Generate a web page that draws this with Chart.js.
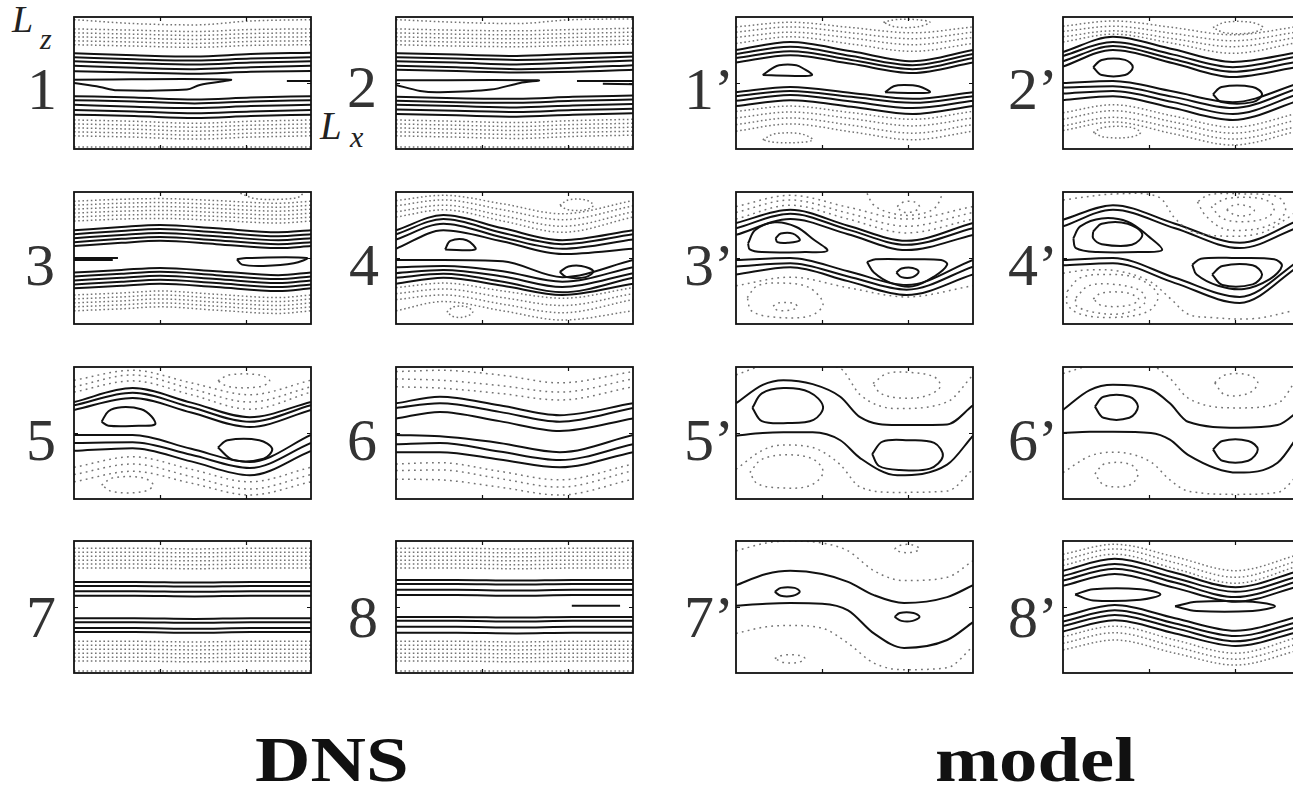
<!DOCTYPE html>
<html>
<head>
<meta charset="utf-8">
<script src="https://cdn.jsdelivr.net/npm/chart.js@4.4.1/dist/chart.umd.min.js"></script>
<style>
  body { margin: 0; width: 1293px; height: 789px; overflow: hidden; background: #fff; position: relative; font-family: "Liberation Serif", "DejaVu Serif", serif; }
  canvas.panel { position: absolute; }
  .num { position: absolute; font-size: 60px; line-height: 1; color: #333; white-space: nowrap; }
  .it { position: absolute; font-style: italic; line-height: 1; color: #222; }
  .big { position: absolute; font-size: 64px; font-weight: bold; line-height: 1; color: #111; transform: scaleX(1.2); transform-origin: left top; }
</style>
</head>
<body>

<span class="it" style="left:12px;top:0px;font-size:38px">L</span>
<span class="it" style="left:40px;top:24px;font-size:30px">z</span>
<span class="it" style="left:320px;top:106px;font-size:39px">L</span>
<span class="it" style="left:350px;top:122px;font-size:30px">x</span>

<div class="num" style="left:27px;top:59px">1</div>
<div class="num" style="left:347px;top:57px">2</div>
<div class="num" style="left:25px;top:235px">3</div>
<div class="num" style="left:349px;top:235px">4</div>
<div class="num" style="left:26px;top:410px">5</div>
<div class="num" style="left:347px;top:410px">6</div>
<div class="num" style="left:26px;top:587px">7</div>
<div class="num" style="left:348px;top:587px">8</div>
<div class="num" style="left:684px;top:59px">1’</div>
<div class="num" style="left:1008px;top:59px">2’</div>
<div class="num" style="left:684px;top:235px">3’</div>
<div class="num" style="left:1008px;top:235px">4’</div>
<div class="num" style="left:684px;top:410px">5’</div>
<div class="num" style="left:1008px;top:410px">6’</div>
<div class="num" style="left:684px;top:587px">7’</div>
<div class="num" style="left:1008px;top:587px">8’</div>

<div class="big" style="left:255px;top:728px">DNS</div>
<div class="big" style="left:935px;top:728px">model</div>

<script>
// axis ticks (x runs 0..Lx, z runs -1..1)
const xTicks = [1, 2];
const yTicks = [0];

// ---------- DNS panels ----------
const flatX = [0, 0.7, 1.4, 2.05, 2.75];

const d1Solid = [
  [0.45, 0.42, 0.40, 0.44, 0.46], [0.39, 0.36, 0.34, 0.37, 0.39], [0.33, 0.30, 0.28, 0.31, 0.33],
  [0.26, 0.23, 0.21, 0.24, 0.26], [0.18, 0.16, 0.14, 0.17, 0.18],
  [-0.20, -0.22, -0.25, -0.22, -0.20], [-0.26, -0.28, -0.31, -0.28, -0.26], [-0.33, -0.36, -0.38, -0.35, -0.33],
  [-0.41, -0.43, -0.46, -0.43, -0.41], [-0.48, -0.50, -0.53, -0.50, -0.48]
];
const d1Dotted = [
  [0.96, 0.90, 0.88, 0.94, 0.96], [0.82, 0.80, 0.78, 0.81, 0.82], [0.76, 0.74, 0.72, 0.75, 0.76],
  [0.70, 0.68, 0.66, 0.69, 0.70], [0.64, 0.62, 0.60, 0.63, 0.64], [0.58, 0.56, 0.54, 0.57, 0.58],
  [-0.56, -0.58, -0.61, -0.58, -0.56], [-0.62, -0.64, -0.67, -0.64, -0.62], [-0.68, -0.70, -0.73, -0.70, -0.68],
  [-0.74, -0.76, -0.79, -0.76, -0.74], [-0.80, -0.82, -0.85, -0.82, -0.80], [-0.97, -0.97, -0.97, -0.97, -0.97]
];
const d1Curves = [
  [[0, 0.05], [1.81, 0.05], [1.46, -0.03], [1.31, -0.10], [0.5, -0.11], [0.3, -0.06], [0, 0.0]],
  [[2.47, 0.03], [2.75, 0.03]]
];

const d2Solid = [
  [0.45, 0.43, 0.41, 0.44, 0.46], [0.39, 0.37, 0.35, 0.37, 0.40], [0.33, 0.31, 0.28, 0.31, 0.34],
  [0.26, 0.24, 0.21, 0.23, 0.27], [0.20, 0.18, 0.16, 0.17, 0.20],
  [-0.21, -0.23, -0.24, -0.21, -0.19], [-0.27, -0.29, -0.30, -0.27, -0.25], [-0.33, -0.35, -0.37, -0.34, -0.32],
  [-0.40, -0.42, -0.44, -0.41, -0.39], [-0.47, -0.49, -0.51, -0.48, -0.46]
];
const d2Dotted = [
  [0.96, 0.92, 0.90, 0.96, 0.97], [0.82, 0.80, 0.79, 0.81, 0.83], [0.76, 0.74, 0.73, 0.75, 0.77],
  [0.70, 0.68, 0.67, 0.69, 0.71], [0.64, 0.62, 0.61, 0.63, 0.65], [0.58, 0.56, 0.55, 0.57, 0.59],
  [-0.56, -0.58, -0.60, -0.57, -0.55], [-0.62, -0.64, -0.66, -0.63, -0.61], [-0.68, -0.70, -0.72, -0.69, -0.67],
  [-0.74, -0.76, -0.78, -0.75, -0.73], [-0.80, -0.82, -0.84, -0.81, -0.79], [-0.97, -0.97, -0.97, -0.97, -0.97]
];
const d2Curves = [
  [[0, 0.04], [1.65, 0.04], [1.44, 0.0], [1.1, -0.10], [0.5, -0.14], [0.28, -0.12], [0, -0.03]],
  [[2.1, 0.03], [2.75, 0.03]],
  [[2.4, -0.01], [2.75, -0.02]]
];

const d3X = [0, 0.55, 1.0, 1.65, 2.37, 2.75];
const d3Solid = [
  [0.42, 0.47, 0.50, 0.45, 0.39, 0.42], [0.36, 0.41, 0.44, 0.39, 0.33, 0.36], [0.30, 0.35, 0.38, 0.33, 0.27, 0.30],
  [0.24, 0.29, 0.32, 0.27, 0.21, 0.24], [0.18, 0.23, 0.26, 0.21, 0.15, 0.18],
  [-0.22, -0.18, -0.15, -0.20, -0.26, -0.22], [-0.28, -0.24, -0.21, -0.26, -0.32, -0.28], [-0.34, -0.30, -0.27, -0.32, -0.38, -0.34],
  [-0.40, -0.36, -0.33, -0.38, -0.44, -0.40], [-0.46, -0.42, -0.39, -0.44, -0.50, -0.46]
];
const d3Dotted = [
  [0.86, 0.89, 0.90, 0.87, 0.83, 0.86], [0.80, 0.83, 0.84, 0.81, 0.77, 0.80], [0.74, 0.77, 0.78, 0.75, 0.71, 0.74],
  [0.68, 0.71, 0.72, 0.69, 0.65, 0.68], [0.62, 0.65, 0.66, 0.63, 0.59, 0.62], [0.56, 0.59, 0.60, 0.57, 0.53, 0.56],
  [-0.56, -0.53, -0.50, -0.55, -0.60, -0.56], [-0.62, -0.59, -0.56, -0.61, -0.66, -0.62], [-0.68, -0.65, -0.62, -0.67, -0.72, -0.68],
  [-0.74, -0.71, -0.68, -0.73, -0.78, -0.74], [-0.80, -0.77, -0.74, -0.79, -0.84, -0.80]
];
const d3Curves = [
  [[0, 0.0], [0.51, 0.0]],
  [[0, -0.03], [0.45, -0.03]],
  [[1.89, -0.02], [2.0, 0.0], [2.70, 0.0], [2.55, -0.08], [2.2, -0.12], [1.95, -0.10], [1.89, -0.02]]
];
const d3DotCurves = [
  [[1.93, 0.98], [2.1, 0.9], [2.4, 0.89], [2.6, 0.92], [2.66, 0.98]]
];

const d4X = [0, 0.55, 1.24, 1.93, 2.75];
const d4Solid = [
  [0.42, 0.65, 0.45, 0.27, 0.42], [0.36, 0.59, 0.38, 0.21, 0.36], [0.28, 0.52, 0.31, 0.14, 0.28],
  [0.14, 0.42, 0.25, 0.06, 0.14],
  [-0.03, -0.03, -0.05, -0.29, -0.03], [-0.14, -0.12, -0.20, -0.36, -0.14], [-0.23, -0.18, -0.28, -0.44, -0.23],
  [-0.30, -0.24, -0.36, -0.52, -0.30], [-0.39, -0.30, -0.42, -0.56, -0.39]
];
const d4Dotted = [
  [0.87, 0.95, 0.82, 0.67, 0.87], [0.79, 0.88, 0.73, 0.58, 0.79], [0.70, 0.80, 0.64, 0.48, 0.70],
  [0.62, 0.73, 0.56, 0.39, 0.62],
  [-0.45, -0.38, -0.50, -0.61, -0.45], [-0.54, -0.47, -0.60, -0.72, -0.54], [-0.63, -0.56, -0.70, -0.83, -0.63],
  [-0.80, -0.66, -0.80, -0.94, -0.80]
];
const d4Curves = [
  [[0.57, 0.13], [0.63, 0.26], [0.82, 0.27], [0.92, 0.13], [0.57, 0.13]],
  [[1.9, -0.21], [2.0, -0.13], [2.15, -0.12], [2.29, -0.2], [2.2, -0.29], [1.98, -0.29], [1.9, -0.21]]
];
const d4DotCurves = [
  [[1.9, 0.8], [2.0, 0.88], [2.2, 0.88], [2.29, 0.8], [2.2, 0.73], [2.0, 0.73], [1.9, 0.8]],
  [[0.59, -0.82], [0.67, -0.74], [0.82, -0.74], [0.89, -0.82], [0.8, -0.89], [0.67, -0.89], [0.59, -0.82]]
];

const d5X = [0, 0.68, 1.36, 2.04, 2.75];
const d5Solid = [
  [0.47, 0.68, 0.46, 0.24, 0.47], [0.42, 0.61, 0.39, 0.17, 0.42], [0.35, 0.53, 0.31, 0.09, 0.35],
  [-0.03, -0.03, -0.24, -0.44, -0.03], [-0.15, -0.14, -0.33, -0.53, -0.15], [-0.27, -0.23, -0.43, -0.64, -0.27]
];
const d5Dotted = [
  [0.80, 0.95, 0.76, 0.58, 0.80], [0.70, 0.88, 0.67, 0.47, 0.70], [0.62, 0.79, 0.58, 0.36, 0.62],
  [-0.52, -0.36, -0.55, -0.74, -0.52], [-0.63, -0.47, -0.66, -0.85, -0.63], [-0.74, -0.58, -0.76, -0.94, -0.74]
];
const d5Curves = [
  [[0.32, 0.17], [0.4, 0.33], [0.55, 0.39], [0.78, 0.36], [0.9, 0.25], [0.94, 0.13], [0.75, 0.11], [0.4, 0.11], [0.32, 0.17]],
  [[1.67, -0.22], [1.78, -0.11], [2.15, -0.11], [2.3, -0.24], [2.2, -0.39], [1.85, -0.41], [1.67, -0.22]]
];
const d5DotCurves = [
  [[1.67, 0.79], [1.8, 0.88], [2.15, 0.88], [2.27, 0.79], [2.15, 0.70], [1.8, 0.70], [1.67, 0.79]],
  [[0.32, -0.79], [0.45, -0.68], [0.8, -0.68], [0.92, -0.79], [0.8, -0.89], [0.45, -0.89], [0.32, -0.79]]
];

const d6X = [0, 0.51, 1.2, 1.9, 2.75];
const d6Solid = [
  [0.45, 0.55, 0.42, 0.27, 0.45], [0.38, 0.45, 0.32, 0.17, 0.38], [0.22, 0.32, 0.18, 0.03, 0.22],
  [-0.03, -0.05, -0.15, -0.29, -0.03], [-0.17, -0.15, -0.28, -0.41, -0.17], [-0.29, -0.29, -0.40, -0.52, -0.29]
];
const d6Dotted = [
  [0.93, 0.95, 0.88, 0.76, 0.93], [0.82, 0.80, 0.72, 0.62, 0.82], [0.70, 0.68, 0.60, 0.50, 0.70],
  [-0.47, -0.45, -0.58, -0.71, -0.47], [-0.57, -0.56, -0.69, -0.82, -0.57], [-0.70, -0.71, -0.82, -0.94, -0.70]
];

const d7Solid = [
  [0.38, 0.38, 0.37, 0.38, 0.38], [0.32, 0.32, 0.31, 0.32, 0.32], [0.24, 0.24, 0.23, 0.24, 0.24],
  [0.17, 0.17, 0.16, 0.17, 0.17],
  [-0.17, -0.17, -0.18, -0.17, -0.17], [-0.23, -0.23, -0.24, -0.23, -0.23], [-0.32, -0.32, -0.33, -0.32, -0.32],
  [-0.38, -0.38, -0.39, -0.38, -0.38]
];
const d7Dotted = [
  [0.89, 0.89, 0.88, 0.89, 0.89], [0.83, 0.83, 0.82, 0.83, 0.83], [0.77, 0.77, 0.76, 0.77, 0.77],
  [0.71, 0.71, 0.70, 0.71, 0.71], [0.65, 0.65, 0.64, 0.65, 0.65], [0.59, 0.59, 0.58, 0.59, 0.59],
  [-0.52, -0.52, -0.53, -0.52, -0.52], [-0.58, -0.58, -0.59, -0.58, -0.58], [-0.64, -0.64, -0.65, -0.64, -0.64],
  [-0.70, -0.70, -0.71, -0.70, -0.70], [-0.76, -0.76, -0.77, -0.76, -0.76], [-0.82, -0.82, -0.83, -0.82, -0.82],
  [-0.97, -0.97, -0.97, -0.97, -0.97]
];

const d8Solid = [
  [0.41, 0.41, 0.40, 0.41, 0.41], [0.35, 0.35, 0.34, 0.35, 0.35], [0.26, 0.26, 0.25, 0.26, 0.26],
  [0.18, 0.18, 0.17, 0.18, 0.18],
  [-0.15, -0.15, -0.16, -0.15, -0.15], [-0.21, -0.21, -0.22, -0.21, -0.21], [-0.30, -0.30, -0.31, -0.30, -0.30],
  [-0.39, -0.39, -0.40, -0.39, -0.39]
];
const d8Dotted = [
  [0.89, 0.89, 0.88, 0.89, 0.89], [0.83, 0.83, 0.82, 0.83, 0.83], [0.77, 0.77, 0.76, 0.77, 0.77],
  [0.71, 0.71, 0.70, 0.71, 0.71], [0.65, 0.65, 0.64, 0.65, 0.65], [0.59, 0.59, 0.58, 0.59, 0.59],
  [-0.52, -0.52, -0.53, -0.52, -0.52], [-0.58, -0.58, -0.59, -0.58, -0.58], [-0.64, -0.64, -0.65, -0.64, -0.64],
  [-0.70, -0.70, -0.71, -0.70, -0.70], [-0.76, -0.76, -0.77, -0.76, -0.76], [-0.82, -0.82, -0.83, -0.82, -0.82],
  [-0.97, -0.97, -0.97, -0.97, -0.97]
];
const d8Curves = [
  [[2.04, 0.02], [2.6, 0.02]]
];

// ---------- model panels ----------
const m1X = [0, 0.63, 1.34, 2.05, 2.75];
const m1Solid = [
  [0.50, 0.62, 0.48, 0.33, 0.50], [0.44, 0.55, 0.41, 0.27, 0.44], [0.38, 0.48, 0.35, 0.21, 0.38],
  [0.31, 0.42, 0.29, 0.15, 0.31],
  [-0.14, -0.06, -0.15, -0.24, -0.14], [-0.20, -0.12, -0.21, -0.30, -0.20], [-0.27, -0.18, -0.28, -0.38, -0.27],
  [-0.35, -0.26, -0.36, -0.47, -0.35]
];
const m1Dotted = [
  [0.85, 0.92, 0.84, 0.76, 0.85], [0.77, 0.85, 0.76, 0.67, 0.77], [0.69, 0.77, 0.68, 0.58, 0.69],
  [0.60, 0.70, 0.59, 0.48, 0.60],
  [-0.43, -0.35, -0.45, -0.55, -0.43], [-0.53, -0.44, -0.54, -0.65, -0.53], [-0.63, -0.53, -0.64, -0.76, -0.63],
  [-0.73, -0.62, -0.74, -0.86, -0.73]
];
const m1Curves = [
  [[0.31, 0.12], [0.42, 0.22], [0.5, 0.27], [0.7, 0.27], [0.78, 0.22], [0.88, 0.12], [0.6, 0.11], [0.31, 0.12]],
  [[1.73, -0.14], [1.83, -0.05], [1.95, -0.03], [2.12, -0.05], [2.25, -0.14], [2.0, -0.15], [1.73, -0.14]]
];
const m1DotCurves = [
  [[1.71, 0.92], [1.85, 0.96], [2.1, 0.96], [2.25, 0.92], [2.1, 0.85], [1.85, 0.85], [1.71, 0.92]],
  [[0.31, -0.86], [0.45, -0.77], [0.75, -0.77], [0.89, -0.86], [0.75, -0.9], [0.45, -0.9], [0.31, -0.86]]
];

const m2X = [0, 0.58, 1.28, 1.97, 2.75];
const m2Solid = [
  [0.47, 0.70, 0.51, 0.32, 0.47], [0.41, 0.62, 0.43, 0.24, 0.41], [0.33, 0.56, 0.36, 0.17, 0.33],
  [0.25, 0.50, 0.30, 0.09, 0.25],
  [0.0, 0.03, -0.13, -0.29, 0.0], [-0.07, -0.05, -0.21, -0.38, -0.07], [-0.16, -0.12, -0.29, -0.47, -0.16],
  [-0.26, -0.20, -0.38, -0.56, -0.26]
];
const m2Dotted = [
  [0.86, 0.94, 0.84, 0.73, 0.86], [0.78, 0.86, 0.75, 0.64, 0.78], [0.70, 0.79, 0.67, 0.55, 0.70],
  [0.62, 0.74, 0.60, 0.45, 0.62],
  [-0.45, -0.33, -0.50, -0.67, -0.45], [-0.55, -0.42, -0.59, -0.76, -0.55], [-0.65, -0.52, -0.68, -0.85, -0.65],
  [-0.72, -0.59, -0.77, -0.94, -0.72]
];
const m2Curves = [
  [[0.35, 0.24], [0.45, 0.35], [0.72, 0.35], [0.81, 0.24], [0.72, 0.12], [0.45, 0.12], [0.35, 0.24]],
  [[1.74, -0.17], [1.84, -0.06], [2.2, -0.06], [2.31, -0.17], [2.2, -0.29], [1.84, -0.29], [1.74, -0.17]]
];
const m2DotCurves = [
  [[1.74, 0.84], [1.88, 0.92], [2.18, 0.92], [2.32, 0.84], [2.18, 0.76], [1.88, 0.76], [1.74, 0.84]],
  [[0.35, -0.75], [0.48, -0.67], [0.78, -0.67], [0.9, -0.75], [0.78, -0.82], [0.48, -0.82], [0.35, -0.75]]
];

const m3X = [0, 0.63, 1.3, 1.98, 2.75];
const m3Solid = [
  [0.53, 0.73, 0.49, 0.26, 0.53], [0.45, 0.67, 0.43, 0.20, 0.45], [0.35, 0.59, 0.36, 0.12, 0.35],
  [-0.03, 0.0, -0.20, -0.41, -0.03], [-0.13, -0.08, -0.28, -0.48, -0.13], [-0.25, -0.14, -0.35, -0.56, -0.25]
];
const m3Dotted = [
  [0.78, 0.95, 0.77, 0.59, 0.78], [0.69, 0.88, 0.68, 0.48, 0.69], [0.59, 0.80, 0.59, 0.38, 0.59],
  [-0.42, -0.29, -0.45, -0.59, -0.42]
];
const m3Curves = [
  [[0.14, 0.22], [0.22, 0.42], [0.45, 0.54], [0.7, 0.47], [0.9, 0.28], [1.06, 0.11], [0.8, 0.09], [0.3, 0.09], [0.16, 0.13], [0.14, 0.22]],
  [[0.46, 0.3], [0.52, 0.37], [0.66, 0.37], [0.74, 0.27], [0.6, 0.23], [0.48, 0.24], [0.46, 0.3]],
  [[1.52, -0.06], [1.62, -0.02], [2.0, -0.02], [2.38, -0.03], [2.45, -0.1], [2.3, -0.28], [2.05, -0.43], [1.8, -0.38], [1.6, -0.22], [1.52, -0.06]],
  [[1.86, -0.22], [1.92, -0.16], [2.05, -0.15], [2.12, -0.21], [2.05, -0.29], [1.92, -0.29], [1.86, -0.22]]
];
const m3DotCurves = [
  [[1.52, 0.98], [1.6, 0.8], [1.8, 0.68], [2.05, 0.65], [2.3, 0.75], [2.4, 0.98]],
  [[1.87, 0.78], [1.95, 0.85], [2.07, 0.85], [2.13, 0.77], [2.05, 0.7], [1.93, 0.7], [1.87, 0.78]],
  [[0.13, -0.6], [0.25, -0.42], [0.55, -0.38], [0.85, -0.45], [1.01, -0.7], [0.85, -0.88], [0.4, -0.89], [0.18, -0.8], [0.13, -0.6]],
  [[0.43, -0.73], [0.5, -0.68], [0.68, -0.69], [0.71, -0.75], [0.62, -0.79], [0.48, -0.79], [0.43, -0.73]]
];

const m4X = [0, 0.58, 1.3, 2.05, 2.75];
const m4Solid = [
  [0.58, 0.80, 0.52, 0.23, 0.58], [0.48, 0.73, 0.45, 0.15, 0.48],
  [-0.03, 0.0, -0.30, -0.59, -0.03], [-0.11, -0.08, -0.38, -0.68, -0.11]
];
const m4Curves = [
  [[0.12, 0.3], [0.2, 0.48], [0.45, 0.6], [0.75, 0.55], [1.0, 0.32], [1.15, 0.12], [0.9, 0.09], [0.4, 0.09], [0.15, 0.15], [0.12, 0.3]],
  [[0.35, 0.4], [0.45, 0.52], [0.75, 0.52], [0.92, 0.36], [0.8, 0.2], [0.45, 0.21], [0.35, 0.3], [0.35, 0.4]],
  [[1.5, -0.1], [1.6, -0.01], [2.0, 0.0], [2.45, -0.02], [2.54, -0.12], [2.4, -0.32], [2.1, -0.47], [1.8, -0.42], [1.55, -0.25], [1.5, -0.1]],
  [[1.73, -0.25], [1.85, -0.12], [2.2, -0.11], [2.31, -0.25], [2.2, -0.4], [1.85, -0.41], [1.73, -0.25]]
];
const m4DotCurves = [
  [[0, 0.88], [0.6, 0.97], [1.1, 0.93], [1.3, 0.6], [1.5, 0.4], [1.9, 0.33], [2.3, 0.38], [2.6, 0.6], [2.75, 0.75]],
  [[0, -0.23], [0.3, -0.18], [0.65, -0.2], [1.0, -0.35], [1.25, -0.62], [1.45, -0.85], [1.7, -0.9], [2.2, -0.92], [2.6, -0.82], [2.75, -0.75]],
  [[1.56, 0.85], [1.65, 0.65], [1.85, 0.45], [2.1, 0.42], [2.4, 0.5], [2.58, 0.7], [2.5, 0.92], [2.1, 0.97], [1.7, 0.96], [1.56, 0.85]],
  [[1.72, 0.78], [1.85, 0.6], [2.1, 0.55], [2.38, 0.62], [2.45, 0.78], [2.3, 0.9], [1.9, 0.9], [1.72, 0.78]],
  [[1.9, 0.73], [2.0, 0.65], [2.15, 0.65], [2.22, 0.73], [2.1, 0.8], [1.98, 0.8], [1.9, 0.73]],
  [[0.05, -0.5], [0.2, -0.3], [0.5, -0.25], [0.85, -0.3], [1.1, -0.55], [1.0, -0.8], [0.6, -0.9], [0.2, -0.85], [0.05, -0.7], [0.05, -0.5]],
  [[0.15, -0.6], [0.3, -0.42], [0.6, -0.4], [0.9, -0.5], [0.95, -0.68], [0.7, -0.84], [0.35, -0.82], [0.15, -0.72], [0.15, -0.6]],
  [[0.35, -0.62], [0.45, -0.53], [0.75, -0.53], [0.88, -0.63], [0.75, -0.72], [0.45, -0.72], [0.35, -0.62]]
];

const m5X = [0, 0.31, 0.55, 0.89, 1.21, 1.44, 1.87, 2.45, 2.75];
const m5Solid = [
  [0.45, 0.73, 0.80, 0.74, 0.55, 0.24, 0.12, 0.13, 0.42],
  [-0.04, 0.0, 0.01, 0.01, -0.11, -0.38, -0.64, -0.48, -0.04]
];
const m5Dotted = [
  [0.88, 1.02, 1.05, 1.05, 0.98, 0.58, 0.37, 0.47, 0.88],
  [-0.55, -0.26, -0.18, -0.22, -0.48, -0.82, -0.90, -0.88, -0.55]
];
const m5Curves = [
  [[0.19, 0.38], [0.3, 0.6], [0.55, 0.68], [0.85, 0.62], [1.01, 0.4], [0.9, 0.2], [0.6, 0.15], [0.3, 0.18], [0.19, 0.38]],
  [[1.58, -0.32], [1.7, -0.13], [2.0, -0.11], [2.3, -0.15], [2.4, -0.35], [2.25, -0.54], [1.9, -0.56], [1.66, -0.5], [1.58, -0.32]]
];
const m5DotCurves = [
  [[1.59, 0.75], [1.75, 0.9], [2.0, 0.92], [2.3, 0.85], [2.37, 0.7], [2.2, 0.56], [1.9, 0.53], [1.68, 0.6], [1.59, 0.75]],
  [[0.16, -0.6], [0.3, -0.4], [0.6, -0.33], [0.9, -0.4], [1.01, -0.6], [0.85, -0.8], [0.5, -0.83], [0.25, -0.77], [0.16, -0.6]]
];

const m6X = [0, 0.31, 0.58, 1.02, 1.24, 1.45, 2.03, 2.49, 2.75];
const m6Solid = [
  [0.35, 0.65, 0.73, 0.66, 0.45, 0.17, 0.08, 0.12, 0.35],
  [0.0, 0.02, 0.02, 0.0, -0.10, -0.33, -0.60, -0.45, 0.0]
];
const m6Dotted = [
  [0.90, 1.02, 1.05, 1.02, 0.83, 0.53, 0.38, 0.45, 0.90],
  [-0.60, -0.35, -0.29, -0.44, -0.71, -0.88, -0.93, -0.90, -0.60]
];
const m6Curves = [
  [[0.37, 0.4], [0.47, 0.55], [0.77, 0.55], [0.87, 0.4], [0.77, 0.23], [0.47, 0.23], [0.37, 0.4]],
  [[1.74, -0.25], [1.85, -0.12], [2.15, -0.12], [2.26, -0.25], [2.15, -0.42], [1.85, -0.42], [1.74, -0.25]]
];
const m6DotCurves = [
  [[1.76, 0.76], [1.88, 0.88], [2.15, 0.88], [2.26, 0.76], [2.15, 0.6], [1.88, 0.58], [1.76, 0.76]],
  [[0.37, -0.62], [0.48, -0.47], [0.77, -0.47], [0.87, -0.62], [0.77, -0.79], [0.48, -0.79], [0.37, -0.62]]
];

const m7X = [0, 0.35, 0.63, 1.0, 1.3, 1.6, 1.95, 2.45, 2.75];
const m7Solid = [
  [0.33, 0.50, 0.55, 0.50, 0.38, 0.18, 0.06, 0.15, 0.33],
  [0.02, 0.05, 0.06, 0.05, -0.05, -0.40, -0.62, -0.50, -0.23]
];
const m7Dotted = [
  [0.85, 0.97, 1.0, 0.97, 0.85, 0.55, 0.40, 0.45, 0.70],
  [-0.40, -0.30, -0.28, -0.32, -0.55, -0.85, -0.95, -0.92, -0.60]
];
const m7Curves = [
  [[0.45, 0.23], [0.52, 0.29], [0.68, 0.29], [0.74, 0.23], [0.66, 0.17], [0.52, 0.17], [0.45, 0.23]],
  [[1.84, -0.15], [1.9, -0.09], [2.06, -0.09], [2.13, -0.15], [2.05, -0.21], [1.92, -0.21], [1.84, -0.15]]
];
const m7DotCurves = [
  [[1.84, 0.88], [1.92, 0.94], [2.05, 0.94], [2.13, 0.88], [2.05, 0.83], [1.92, 0.83], [1.84, 0.88]],
  [[0.45, -0.78], [0.55, -0.73], [0.72, -0.73], [0.8, -0.78], [0.72, -0.84], [0.55, -0.84], [0.45, -0.78]]
];

const m8X = [0, 0.6, 1.3, 2.0, 2.75];
const m8Solid = [
  [0.55, 0.73, 0.52, 0.30, 0.55], [0.47, 0.65, 0.44, 0.23, 0.47], [0.40, 0.58, 0.37, 0.15, 0.40],
  [0.32, 0.50, 0.29, 0.08, 0.32],
  [-0.14, 0.03, -0.17, -0.36, -0.14], [-0.22, -0.05, -0.25, -0.44, -0.22], [-0.29, -0.12, -0.32, -0.52, -0.29],
  [-0.37, -0.20, -0.40, -0.59, -0.37]
];
const m8Dotted = [
  [0.80, 0.95, 0.76, 0.55, 0.80], [0.71, 0.88, 0.67, 0.45, 0.71], [0.63, 0.80, 0.58, 0.36, 0.63],
  [-0.45, -0.29, -0.50, -0.70, -0.45], [-0.55, -0.39, -0.60, -0.79, -0.55], [-0.65, -0.50, -0.70, -0.88, -0.65]
];
const m8Curves = [
  [[0.14, 0.19], [0.35, 0.27], [0.9, 0.27], [1.13, 0.19], [0.9, 0.11], [0.35, 0.1], [0.14, 0.19]],
  [[1.3, 0.01], [1.55, 0.08], [2.2, 0.08], [2.46, 0.01], [2.2, -0.06], [1.55, -0.06], [1.3, 0.01]]
];

// ---------- layout ----------
const denseDash = [1.6, 2.6];
const looseDash = [1.8, 4.2];

const panels = [
  { left: 74,   top: 17,  xs: flatX, solid: d1Solid, dotted: d1Dotted, curves: d1Curves, dotCurves: [], dash: denseDash },
  { left: 396,  top: 17,  xs: flatX, solid: d2Solid, dotted: d2Dotted, curves: d2Curves, dotCurves: [], dash: denseDash },
  { left: 74,   top: 192, xs: d3X, solid: d3Solid, dotted: d3Dotted, curves: d3Curves, dotCurves: d3DotCurves, dash: denseDash },
  { left: 396,  top: 192, xs: d4X, solid: d4Solid, dotted: d4Dotted, curves: d4Curves, dotCurves: d4DotCurves, dash: denseDash },
  { left: 74,   top: 367, xs: d5X, solid: d5Solid, dotted: d5Dotted, curves: d5Curves, dotCurves: d5DotCurves, dash: looseDash },
  { left: 396,  top: 367, xs: d6X, solid: d6Solid, dotted: d6Dotted, curves: [], dotCurves: [], dash: looseDash },
  { left: 74,   top: 541, xs: flatX, solid: d7Solid, dotted: d7Dotted, curves: [], dotCurves: [], dash: denseDash },
  { left: 396,  top: 541, xs: flatX, solid: d8Solid, dotted: d8Dotted, curves: d8Curves, dotCurves: [], dash: denseDash },
  { left: 736,  top: 17,  xs: m1X, solid: m1Solid, dotted: m1Dotted, curves: m1Curves, dotCurves: m1DotCurves, dash: denseDash },
  { left: 1063, top: 17,  xs: m2X, solid: m2Solid, dotted: m2Dotted, curves: m2Curves, dotCurves: m2DotCurves, dash: denseDash },
  { left: 736,  top: 192, xs: m3X, solid: m3Solid, dotted: m3Dotted, curves: m3Curves, dotCurves: m3DotCurves, dash: looseDash },
  { left: 1063, top: 192, xs: m4X, solid: m4Solid, dotted: [], curves: m4Curves, dotCurves: m4DotCurves, dash: looseDash },
  { left: 736,  top: 367, xs: m5X, solid: m5Solid, dotted: m5Dotted, curves: m5Curves, dotCurves: m5DotCurves, dash: looseDash },
  { left: 1063, top: 367, xs: m6X, solid: m6Solid, dotted: m6Dotted, curves: m6Curves, dotCurves: m6DotCurves, dash: looseDash },
  { left: 736,  top: 541, xs: m7X, solid: m7Solid, dotted: m7Dotted, curves: m7Curves, dotCurves: m7DotCurves, dash: looseDash },
  { left: 1063, top: 541, xs: m8X, solid: m8Solid, dotted: m8Dotted, curves: m8Curves, dotCurves: [], dash: denseDash }
];

const PANEL_W = 237, PANEL_H = 132, PAD = 2;
const DOT_COLOR = '#747474';
const LINE_COLOR = '#111';

// box + inward ticks, like the matlab axes
const framePlugin = {
  id: 'frame',
  afterDraw(chart) {
    const { ctx, chartArea: a, scales } = chart;
    ctx.save();
    ctx.strokeStyle = '#111';
    ctx.lineWidth = 1.8;
    ctx.strokeRect(a.left, a.top, a.right - a.left, a.bottom - a.top);
    ctx.lineWidth = 1.2;
    ctx.beginPath();
    xTicks.forEach(v => {
      const px = Math.round(scales.x.getPixelForValue(v)) + 0.5;
      ctx.moveTo(px, a.top); ctx.lineTo(px, a.top + 4);
      ctx.moveTo(px, a.bottom); ctx.lineTo(px, a.bottom - 4);
    });
    yTicks.forEach(v => {
      const py = Math.round(scales.y.getPixelForValue(v)) + 0.5;
      ctx.moveTo(a.left, py); ctx.lineTo(a.left + 4, py);
      ctx.moveTo(a.right, py); ctx.lineTo(a.right - 4, py);
    });
    ctx.stroke();
    ctx.restore();
  }
};

function bandSet(xs, ys, dotted, dash) {
  return {
    data: xs.map((x, i) => ({ x: x, y: ys[i] })),
    borderColor: dotted ? DOT_COLOR : LINE_COLOR,
    borderWidth: dotted ? 1.5 : 2,
    borderDash: dotted ? dash : [],
    cubicInterpolationMode: 'monotone',
    pointRadius: 0,
    fill: false
  };
}

function curveSet(pts, dotted, dash) {
  return {
    data: pts.map(p => ({ x: p[0], y: p[1] })),
    borderColor: dotted ? DOT_COLOR : LINE_COLOR,
    borderWidth: dotted ? 1.5 : 2,
    borderDash: dotted ? dash : [],
    tension: 0.35,
    pointRadius: 0,
    fill: false
  };
}

panels.forEach(p => {
  const cv = document.createElement('canvas');
  cv.className = 'panel';
  cv.width = PANEL_W + 2 * PAD;
  cv.height = PANEL_H + 2 * PAD;
  cv.style.left = (p.left - PAD) + 'px';
  cv.style.top = (p.top - PAD) + 'px';
  document.body.appendChild(cv);

  const datasets = [];
  p.dotted.forEach(ys => datasets.push(bandSet(p.xs, ys, true, p.dash)));
  p.dotCurves.forEach(c => datasets.push(curveSet(c, true, p.dash)));
  p.solid.forEach(ys => datasets.push(bandSet(p.xs, ys, false)));
  p.curves.forEach(c => datasets.push(curveSet(c, false)));

  new Chart(cv, {
    type: 'line',
    data: { datasets: datasets },
    options: {
      responsive: false,
      animation: false,
      events: [],
      layout: { padding: PAD },
      plugins: { legend: { display: false }, tooltip: { enabled: false } },
      scales: {
        x: { type: 'linear', min: 0, max: 2.75, display: false },
        y: { type: 'linear', min: -1, max: 1, display: false }
      }
    },
    plugins: [framePlugin]
  });
});
</script>
</body>
</html>
